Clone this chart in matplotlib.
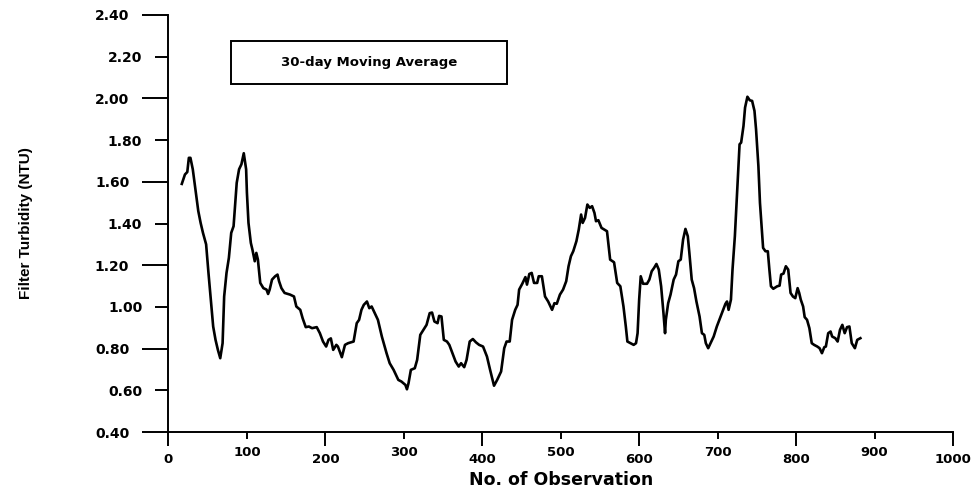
import matplotlib
matplotlib.use("Agg")
import matplotlib.pyplot as plt
from matplotlib import font_manager
from matplotlib.patches import Rectangle
from matplotlib.ticker import FixedLocator, FormatStrFormatter

# 30-day moving average
observation = [
    17, 21, 24, 26, 28, 31, 35, 38, 41, 44, 48, 51, 54, 57, 60, 63, 66, 69, 71, 74,
    77, 80, 83, 87, 90, 93, 96, 99, 100, 102, 105, 107, 110, 112, 114, 117, 121, 125, 127, 129,
    132, 136, 139, 141, 144, 148, 155, 160, 163, 168, 171, 175, 179, 183, 189, 193, 197, 201, 204, 207,
    210, 214, 216, 221, 225, 229, 236, 240, 243, 246, 249, 253, 256, 259, 263, 267, 272, 278, 282, 287,
    293, 297, 302, 304, 306, 309, 314, 317, 321, 325, 329, 333, 336, 339, 343, 345, 348, 351, 355, 358,
    362, 366, 370, 373, 377, 380, 384, 388, 392, 396, 401, 406, 410, 415, 419, 424, 428, 431, 435, 438,
    442, 445, 447, 451, 455, 457, 460, 463, 466, 470, 472, 476, 480, 484, 489, 492, 495, 499, 503, 507,
    510, 513, 516, 520, 523, 526, 528, 531, 534, 537, 540, 543, 545, 548, 552, 559, 563, 568, 572, 576,
    580, 583, 585, 589, 593, 596, 598, 600, 602, 605, 610, 613, 616, 619, 622, 625, 628, 631, 633, 634,
    637, 640, 644, 647, 650, 653, 656, 659, 662, 664, 667, 670, 673, 677, 680, 683, 685, 688, 690, 695,
    699, 703, 707, 710, 712, 714, 717, 719, 722, 724, 726, 728, 730, 733, 735, 738, 741, 744, 747, 749,
    752, 754, 757, 758, 761, 764, 766, 768, 771, 776, 779, 781, 784, 787, 790, 793, 796, 799, 802, 804,
    806, 809, 811, 814, 817, 820, 823, 827, 830, 833, 836, 838, 841, 844, 846, 850, 853, 856, 859, 862,
    865, 868, 871, 875, 878, 882,
]
turbidity = [
    1.590, 1.635, 1.647, 1.715, 1.715, 1.660, 1.548, 1.460, 1.403, 1.355, 1.300, 1.163, 1.035, 0.906, 0.842, 0.794, 0.754, 0.826, 1.050, 1.163,
    1.235, 1.355, 1.387, 1.595, 1.660, 1.684, 1.737, 1.660, 1.548, 1.403, 1.307, 1.275, 1.219, 1.259, 1.227, 1.115, 1.090, 1.083, 1.062, 1.083,
    1.131, 1.147, 1.155, 1.123, 1.090, 1.067, 1.059, 1.050, 1.002, 0.986, 0.946, 0.903, 0.906, 0.898, 0.903, 0.874, 0.834, 0.810, 0.842, 0.849,
    0.794, 0.818, 0.810, 0.759, 0.818, 0.826, 0.834, 0.922, 0.938, 0.986, 1.010, 1.026, 0.994, 1.002, 0.970, 0.938, 0.858, 0.778, 0.730, 0.698,
    0.650, 0.642, 0.626, 0.605, 0.634, 0.698, 0.706, 0.746, 0.866, 0.890, 0.914, 0.970, 0.973, 0.930, 0.922, 0.957, 0.954, 0.842, 0.834, 0.818,
    0.778, 0.738, 0.714, 0.730, 0.711, 0.746, 0.834, 0.846, 0.830, 0.818, 0.810, 0.762, 0.698, 0.622, 0.650, 0.690, 0.802, 0.834, 0.834, 0.938,
    0.986, 1.010, 1.083, 1.111, 1.143, 1.107, 1.158, 1.163, 1.115, 1.115, 1.147, 1.147, 1.050, 1.026, 0.986, 1.018, 1.015, 1.059, 1.083, 1.123,
    1.195, 1.243, 1.267, 1.315, 1.371, 1.443, 1.403, 1.427, 1.491, 1.475, 1.483, 1.451, 1.411, 1.416, 1.379, 1.363, 1.227, 1.214, 1.115, 1.099,
    1.002, 0.906, 0.834, 0.826, 0.818, 0.826, 0.874, 1.035, 1.147, 1.111, 1.111, 1.131, 1.171, 1.187, 1.206, 1.179, 1.099, 0.970, 0.874, 0.938,
    1.018, 1.059, 1.131, 1.155, 1.219, 1.227, 1.323, 1.374, 1.339, 1.259, 1.131, 1.090, 1.026, 0.954, 0.874, 0.866, 0.826, 0.802, 0.818, 0.858,
    0.906, 0.946, 0.986, 1.015, 1.026, 0.986, 1.035, 1.179, 1.339, 1.483, 1.627, 1.780, 1.788, 1.868, 1.956, 2.008, 1.991, 1.988, 1.940, 1.852,
    1.675, 1.499, 1.339, 1.283, 1.267, 1.267, 1.179, 1.099, 1.087, 1.099, 1.102, 1.155, 1.160, 1.195, 1.179, 1.067, 1.050, 1.042, 1.090, 1.067,
    1.035, 1.002, 0.951, 0.938, 0.898, 0.826, 0.818, 0.810, 0.802, 0.778, 0.807, 0.810, 0.874, 0.882, 0.858, 0.850, 0.834, 0.890, 0.914, 0.874,
    0.903, 0.906, 0.826, 0.802, 0.842, 0.850,
]

# long and short tick marks alternate, both labelled
x_ticks_long = [0, 200, 400, 600, 800, 1000]
x_ticks_short = [100, 300, 500, 700, 900]
y_ticks_long = [0.4, 0.8, 1.2, 1.6, 2.0, 2.4]
y_ticks_short = [0.6, 1.0, 1.4, 1.8, 2.2]

X_LABEL = "No. of Observation"
Y_LABEL = "Filter Turbidity (NTU)"
LEGEND_TEXT = "30-day Moving Average"


def pick_ylabel_font():
    # the y label in the original is a narrow bold face
    names = {f.name for f in font_manager.fontManager.ttflist}
    for name, size in [("Liberation Sans Narrow", 13), ("DejaVu Sans Condensed", 11), ("Liberation Sans", 11)]:
        if name in names:
            return name, size
    return "DejaVu Sans", 9.5


def main():
    plt.rcParams['font.family'] = ['DejaVu Sans']
    plt.rcParams['font.weight'] = 'bold'

    fig = plt.figure(figsize=(9.8, 4.87), dpi=100)
    ax = fig.add_axes([0.1719, 0.1129, 0.8005, 0.8563])

    ax.plot(observation, turbidity, color='black', linewidth=1.9)

    ax.set_xlim(0, 1000)
    ax.set_ylim(0.4, 2.4)
    for side in ['top', 'right']:
        ax.spines[side].set_visible(False)
    for side in ['left', 'bottom']:
        ax.spines[side].set_linewidth(1.4)

    ax.xaxis.set_major_locator(FixedLocator(x_ticks_long))
    ax.xaxis.set_minor_locator(FixedLocator(x_ticks_short))
    ax.yaxis.set_major_locator(FixedLocator(y_ticks_long))
    ax.yaxis.set_minor_locator(FixedLocator(y_ticks_short))
    ax.xaxis.set_major_formatter(FormatStrFormatter('%d'))
    ax.xaxis.set_minor_formatter(FormatStrFormatter('%d'))
    ax.yaxis.set_major_formatter(FormatStrFormatter('%.2f'))
    ax.yaxis.set_minor_formatter(FormatStrFormatter('%.2f'))

    ax.tick_params(axis='x', which='major', direction='out', length=10, width=1.4, pad=5, labelsize=9.5)
    ax.tick_params(axis='x', which='minor', direction='out', length=5, width=1.4, pad=5, labelsize=9.5)
    ax.tick_params(axis='y', which='major', direction='out', length=18.7, width=1.4, pad=9.5, labelsize=10)
    ax.tick_params(axis='y', which='minor', direction='out', length=9.4, width=1.4, pad=9.5, labelsize=10)

    ax.set_xlabel(X_LABEL, fontsize=12.5, fontweight='bold', va='baseline')
    ax.xaxis.set_label_coords(0.5, -0.1259)

    yfont, ysize = pick_ylabel_font()
    ax.set_ylabel(Y_LABEL, family=[yfont, 'DejaVu Sans'], fontsize=ysize, fontweight='bold', va='center')
    ax.yaxis.set_label_coords(-0.1816, 0.5)

    # text box in the upper left corner
    ax.add_patch(Rectangle((0.0797, 0.8345), 0.352, 0.103, transform=ax.transAxes,
                           fill=False, edgecolor='black', linewidth=1.4, clip_on=False))
    ax.text(0.2556, 0.886, LEGEND_TEXT, transform=ax.transAxes, ha='center', va='center',
            fontsize=9.5, fontweight='bold')

    fig.savefig('out.png', dpi=100)


if __name__ == "__main__":
    main()
